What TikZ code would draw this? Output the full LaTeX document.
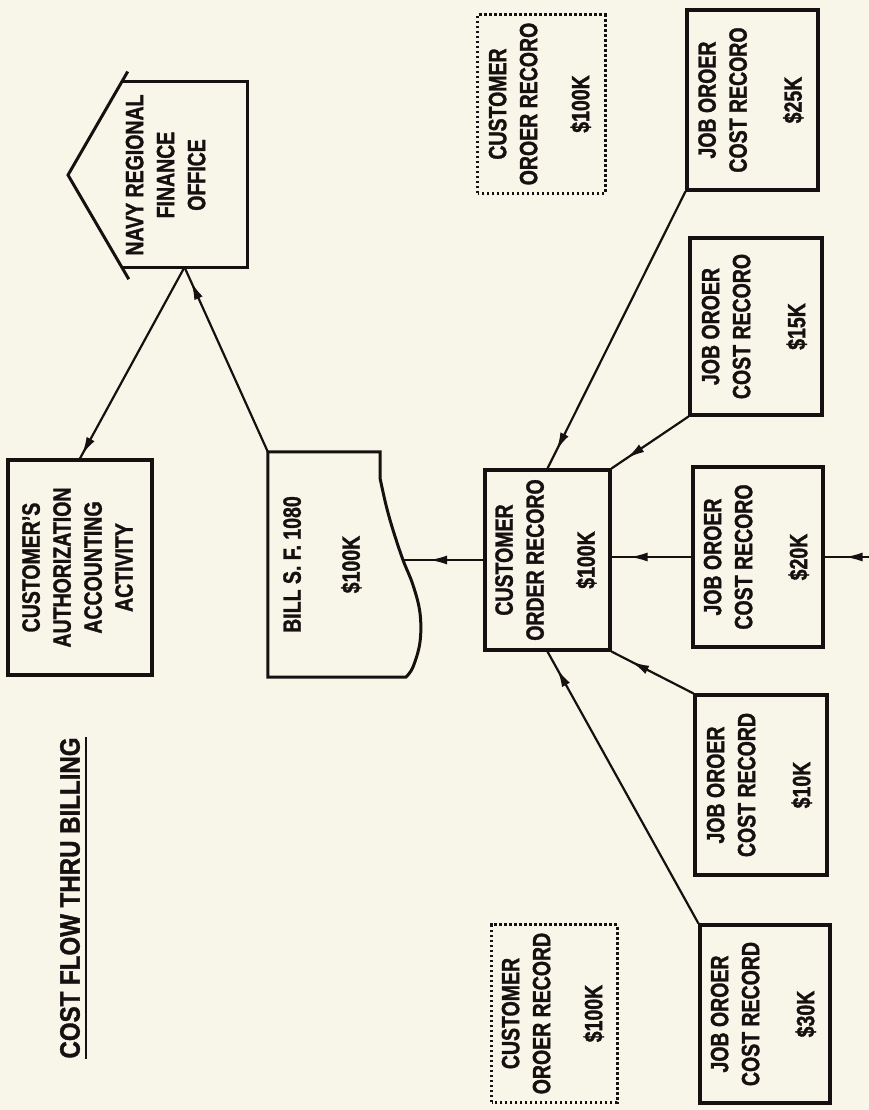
\documentclass[tikz,border=0pt]{standalone}
\usepackage{fontspec}
\usepackage{graphicx}
\setmainfont{Liberation Sans}[FakeStretch=0.78,BoldFeatures={FakeBold=1.3}]
\newfontfamily\titlefont{Liberation Sans}[FakeStretch=0.86,BoldFeatures={FakeBold=1.3}]
\usetikzlibrary{arrows.meta,decorations.markings,calc}
\definecolor{paper}{RGB}{247,246,233}
\definecolor{ink}{RGB}{22,16,16}
% vertical multi-line label, read from bottom to top
\newcommand\rtext[1]{\rotatebox{90}{\begin{tabular}{@{}c@{}}#1\end{tabular}}}

\begin{document}
\begin{tikzpicture}[x=1pt,y=-1pt,
  every node/.style={text=ink,font=\fontsize{25}{31}\selectfont\bfseries,inner sep=0pt},
  sized/.style 2 args={minimum width=#1,minimum height=#2},
  box/.style={draw=ink,line width=3.2pt},
  dotline/.style={draw=ink,line width=3.2pt,dash pattern=on 2.6pt off 2.4pt},
  outline/.style={draw=ink,line width=3pt,line join=miter},
  flow/.style={draw=ink,line width=2.2pt},
  tipat/.style={postaction={decorate},
    decoration={markings,mark=at position #1 with {\arrow{Latex[length=18pt,width=9pt]}}}}]

% page
\fill[paper] (0,0) rectangle (869,1110);
\useasboundingbox (0,0) rectangle (869,1110);

% heading
\node[font=\titlefont\fontsize{28}{32}\selectfont\bfseries] (title) at (70,898)
  {\rotatebox{90}{COST FLOW THRU BILLING}};
\draw[ink,line width=2.4pt] ([xshift=6pt]title.north east) -- ([xshift=6pt]title.south east);

% navy regional finance office (pentagon open on its pointed side)
\node[sized={125}{185}] (navy) at (184.5,174.5) {};
\coordinate (navytip) at (68,175);
\draw[outline] ($(navytip)!1.11!(navy.north west)$) -- (navytip) -- ($(navytip)!1.13!(navy.south west)$);
\draw[outline] (navy.north west) -- (navy.north east) -- (navy.south east) -- (navy.south west);
\node (navytxt) at (168,175) {\rtext{NAVY REGIONAL\\ FINANCE\\ OFFICE}};

% customer's authorization accounting activity
\node[box,sized={144}{215}] (auth) at (80,567.5)
  {\rtext{CUSTOMER'S\\ AUTHORIZATION\\ ACCOUNTING\\ ACTIVITY}};

% bill document with wavy edge
\node[sized={112}{225}] (bill) at (324,564.5) {\rtext{BILL S. F. 1080\\[28pt] \$100K}};
\draw[outline] (bill.south west) -- (bill.north west) -- (bill.north east) --
  plot[smooth,tension=0.6] coordinates {(380,478) (386,505) (393,530) (403,560) (413,585) (420,613) (420,642) (413,667) (406,677)}
  -- cycle;
\coordinate (billedge) at (403,560);

% customer order records
\node[box,sized={125}{180}] (co) at (547.5,560)
  {\rtext{CUSTOMER\\ ORDER RECORO\\[20pt] \$100K}};
\node[sized={127}{178}] (cotop) at (541.5,104)
  {\rtext{CUSTOMER\\ OROER RECORO\\[21pt] \$100K}};
\draw[dotline] (cotop.south west) rectangle (cotop.north east);
\node[sized={125}{177}] (cobot) at (554.5,1013.5)
  {\rtext{CUSTOMER\\ OROER RECORD\\[21pt] \$100K}};
\draw[dotline] (cobot.south west) rectangle (cobot.north east);

% job order cost records
\node[box,sized={131}{180}] (j25) at (752.5,100) {\rtext{JOB OROER\\ COST RECORO\\[24pt] \$25K}};
\node[box,sized={132}{177}] (j15) at (756,326.5) {\rtext{JOB OROER\\ COST RECORO\\[24pt] \$15K}};
\node[box,sized={130}{180}] (j20) at (758,557) {\rtext{JOB OROER\\ COST RECORO\\[24pt] \$20K}};
\node[box,sized={132}{180}] (j10) at (761,785) {\rtext{JOB OROER\\ COST RECORD\\[24pt] \$10K}};
\node[box,sized={130}{178}] (j30) at (765,1014) {\rtext{JOB OROER\\ COST RECORD\\[24pt] \$30K}};
\coordinate (feed) at (869,557);

% flows
\draw[flow,tipat=-4pt] (navy.south) -- (auth.north);
\draw[flow,tipat=-16pt] (bill.north west) -- (navy.south);
\draw[flow,tipat=-26pt] (co.west) -- (billedge);
\draw[flow,tipat=-18pt] (j20.west) -- (co.east |- j20.west);
\draw[flow,tipat=-20pt] (feed) -- (j20.east);
\draw[flow,tipat=-18pt] (j15.south west) -- (co.north east);
\draw[flow,tipat=-20pt] (j25.south west) -- (co.north);
\draw[flow,tipat=-22pt] (j10.north west) -- (co.south east);
\draw[flow,tipat=-20pt] (j30.north west) -- (co.south);
\end{tikzpicture}
\end{document}
